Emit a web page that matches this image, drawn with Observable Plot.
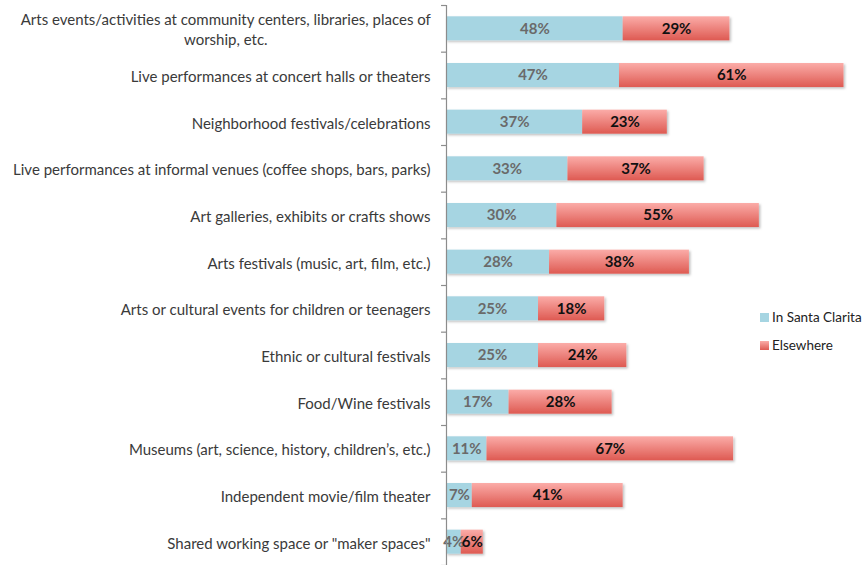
<!DOCTYPE html>
<html>
<head>
<meta charset="utf-8">
<script src="https://cdn.jsdelivr.net/npm/d3@7"></script>
<script src="https://cdn.jsdelivr.net/npm/@observablehq/plot@0.6"></script>
<style>
  body { margin: 0; background: #fff; }
  #wrap { position: relative; width: 863px; height: 565px; font-family: Lato, "Open Sans", sans-serif; }
  .legend { position: absolute; left: 760px; top: 303px; font-size: 13.5px; color: #222; }
  .legend div { display: flex; align-items: center; height: 28px; }
  .legend span.sw { display: inline-block; width: 9px; height: 9px; margin-right: 3px; }
</style>
</head>
<body>
<div id="wrap"></div>
<script>
const categories = [
  "Arts events/activities at community centers, libraries, places of\nworship, etc.",
  "Live performances at concert halls or theaters",
  "Neighborhood festivals/celebrations",
  "Live performances at informal venues (coffee shops, bars, parks)",
  "Art galleries, exhibits or crafts shows",
  "Arts festivals (music, art, film, etc.)",
  "Arts or cultural events for children or teenagers",
  "Ethnic or cultural festivals",
  "Food/Wine festivals",
  "Museums (art, science, history, children\u2019s, etc.)",
  "Independent movie/film theater",
  "Shared working space or \"maker spaces\""
];
const inSantaClarita = [48, 47, 37, 33, 30, 28, 25, 25, 17, 11, 7, 4];
const elsewhere = [29, 61, 23, 37, 55, 38, 18, 24, 28, 67, 41, 6];
const seriesNames = ["In Santa Clarita", "Elsewhere"];

const data = [];
categories.forEach((c, i) => {
  data.push({cat: c, series: seriesNames[0], value: inSantaClarita[i]});
  data.push({cat: c, series: seriesNames[1], value: elsewhere[i]});
});

const W = 863, H = 565, mL = 446, mT = 5, mB = 0, mR = 0;
const band = (H - mT - mB) / categories.length;

const chart = Plot.plot({
  width: W, height: H,
  marginLeft: mL, marginRight: mR, marginTop: mT, marginBottom: mB,
  style: {fontFamily: "Lato, 'Open Sans', sans-serif", background: "#fff"},
  x: {domain: [0, 113.3], axis: null},
  y: {domain: categories, paddingInner: 0.485, paddingOuter: 0.2425, round: false, label: null},
  color: {domain: seriesNames, range: ["#a6d5e2", "url(#redGrad)"]},
  marks: [
    Plot.barX(data, Plot.stackX({x: "value", y: "cat", fill: "series", order: null})),
    Plot.text(data, Plot.stackX({
      x: "value", y: "cat", z: "series", order: null,
      text: d => d.value + "%",
      fill: d => d.series === seriesNames[0] ? "#6a6a6a" : "#111",
      fontWeight: "bold", fontSize: 15
    })),
    Plot.axisY({tickSize: 0, tickPadding: 16, fontSize: 15, lineHeight: 1.33, fill: "#3a3a3a"}),
    Plot.ruleX([0], {stroke: "#8c8c8c", strokeWidth: 1.2}),
    Plot.ruleY(categories, {y: d => d, x1: 0, x2: -1.35, dy: band / 2, stroke: "#8c8c8c", strokeWidth: 1.2}),
    Plot.ruleY(categories.slice(0, 1), {y: d => d, x1: 0, x2: -1.35, dy: -band / 2, stroke: "#8c8c8c", strokeWidth: 1.2})
  ]
});

const wrap = document.getElementById("wrap");
wrap.appendChild(chart);

const svg = d3.select(chart);
const defs = svg.insert("defs", ":first-child");
const g = defs.append("linearGradient").attr("id", "redGrad").attr("x1", 0).attr("y1", 0).attr("x2", 0).attr("y2", 1);
g.append("stop").attr("offset", "0%").attr("stop-color", "#fbaca8");
g.append("stop").attr("offset", "100%").attr("stop-color", "#de5a52");
const f = defs.append("filter").attr("id", "shadow").attr("x", "-5%").attr("y", "-20%").attr("width", "115%").attr("height", "160%");
f.append("feDropShadow").attr("dx", 1.5).attr("dy", 1.5).attr("stdDeviation", 1).attr("flood-color", "#000").attr("flood-opacity", 0.25);
svg.select("g[aria-label='bar']").attr("filter", "url(#shadow)");

// center the wrapped first label's lines around its own middle
svg.selectAll("g[aria-label='y-axis tick label'] text").each(function() {
  const t = d3.select(this);
  const spans = t.selectAll("tspan");
  if (spans.size() > 1) {
    const bb = this.getBBox();
    const cx = bb.x + bb.width / 2;
    t.attr("text-anchor", "middle");
    spans.attr("x", cx);
  }
});

const legend = document.createElement("div");
legend.className = "legend";
legend.innerHTML = seriesNames.map((s, i) =>
  `<div><span class="sw" style="background:${i === 0 ? '#a6d5e2' : 'linear-gradient(#fbaca8,#de5a52)'}"></span>${s}</div>`).join("");
wrap.appendChild(legend);
</script>
</body>
</html>
